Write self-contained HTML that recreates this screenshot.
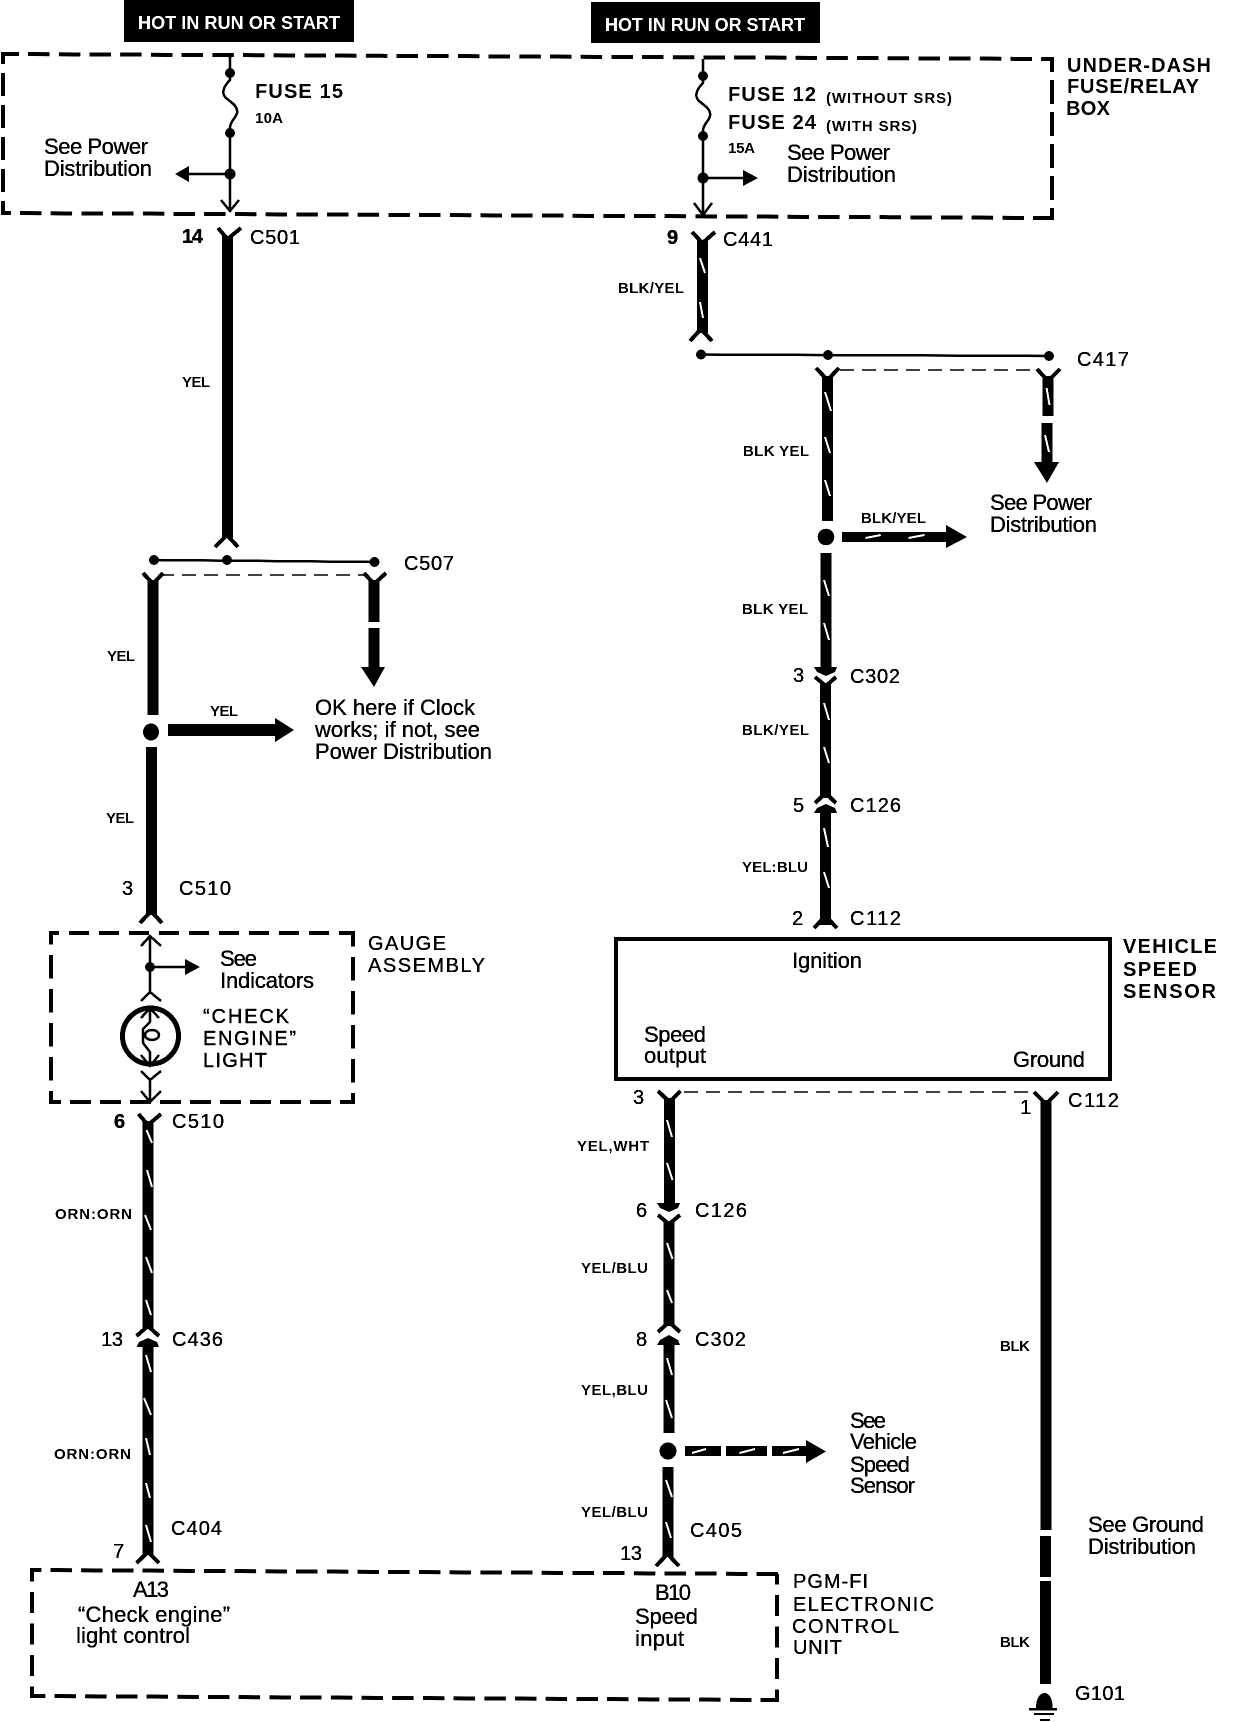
<!DOCTYPE html>
<html><head><meta charset="utf-8"><style>
html,body{margin:0;padding:0;background:#fff}
svg{display:block;filter:grayscale(1) contrast(3)}
text{font-family:"Liberation Sans",sans-serif;fill:#000}
.b{font-size:22px;stroke:#000;stroke-width:.3}
.h{font-size:20px;font-weight:bold}
.s{font-size:15px;font-weight:bold}
.c{font-size:20px;stroke:#000;stroke-width:.3}
.w{fill:#fff;font-size:18px;font-weight:bold}
.box{fill:none;stroke:#000;stroke-width:4}
.bh{stroke-dasharray:21.5 9.2}
.wire{stroke:#000;stroke-width:11;fill:none}
.thin{stroke:#000;stroke-width:2.5;fill:none}
.arm{stroke:#000;stroke-width:4;fill:none}
.dash{stroke:#000;stroke-width:1.5;stroke-dasharray:14 8;fill:none}
.st{stroke:#fff;stroke-width:2;fill:none}
</style></head><body>
<svg width="1248" height="1722" viewBox="0 0 1248 1722" xmlns="http://www.w3.org/2000/svg">
<rect width="1248" height="1722" fill="#fff"/>

<!-- headers -->
<rect x="124" y="0" width="230" height="42"/>
<rect x="591" y="2" width="229" height="41"/>

<!-- dashed boxes -->
<path class="box bh" style="stroke-dashoffset:3.6" d="M1 54L1054 59"/>
<path class="box bh" style="stroke-dashoffset:11.7" d="M1 213L1054 218"/>
<path class="box" style="stroke-dasharray:23 9;stroke-dashoffset:13" d="M3 54V213"/>
<path class="box" style="stroke-dasharray:24 8;stroke-dashoffset:11" d="M1052 59V218"/>

<path class="box" style="stroke-dasharray:20 10;stroke-dashoffset:10" d="M49 933H355"/>
<path class="box" style="stroke-dasharray:21 9;stroke-dashoffset:9" d="M49 1102H355"/>
<path class="box" style="stroke-dasharray:23.500 10.500;stroke-dashoffset:12" d="M51 933V1102"/>
<path class="box" style="stroke-dasharray:23.500 10.500;stroke-dashoffset:10" d="M353 933V1103"/>

<path class="box bh" style="stroke-dashoffset:10.2" d="M30 1570L779 1574"/>
<path class="box bh" style="stroke-dashoffset:6.2" d="M30 1696L779 1700"/>
<path class="box" style="stroke-dasharray:21 10.500;stroke-dashoffset:9.500" d="M32 1570V1696"/>
<path class="box" style="stroke-dasharray:21 10.500;stroke-dashoffset:10.500" d="M777 1574V1702"/>

<rect x="616" y="939" width="494" height="140" fill="none" stroke="#000" stroke-width="4"/>

<!-- fuse 15 -->
<path class="thin" d="M230 54V80C222 88 222 94 226 98C232 103 238 106 237 113C236 118 231 120 230 127V211M221 200L230 211L239 200M230 174H185"/>
<circle cx="230" cy="73" r="5"/><circle cx="230" cy="133" r="5"/><circle cx="230" cy="174" r="5.5"/>
<path d="M175 174L189 166V182Z"/>

<!-- fuse 12 -->
<path class="thin" d="M703 59V83C695 91 695 97 699 101C705 106 711 109 710 116C709 121 704 123 703 130V215M694 203L703 215L712 203M703 178H745"/>
<circle cx="703" cy="76" r="5"/><circle cx="703" cy="136" r="5"/><circle cx="703" cy="178" r="5.5"/>
<path d="M743 170L758 178L743 186Z"/>

<!-- left wire top -->
<path class="arm" d="M218 228L227.500 239L241 228"/>
<path class="wire" d="M227.500 236V538"/>
<path class="arm" d="M215 547L227 535L238 547"/>
<path class="thin" d="M154 560L374.500 562"/>
<circle cx="154" cy="560" r="5"/><circle cx="227" cy="560" r="5"/><circle cx="374.500" cy="562" r="5"/>
<path class="dash" d="M160 575H368"/>
<path class="arm" d="M143 573L153 584L163 573"/>
<path class="wire" d="M153 580V715"/>
<ellipse cx="151" cy="732" rx="8" ry="8.500"/>
<path class="wire" d="M151.500 747V915"/>
<path class="arm" d="M140 923L151 911L162 923"/>
<path class="arm" d="M364 573L374 584L386 573"/>
<path class="wire" d="M374 580V622M374 628V668"/>
<path d="M361 667H385L374 687Z"/>
<path d="M168 724H275V718L294 730L275 742V736H168Z"/>

<!-- gauge interior -->
<path class="thin" d="M150 936V992M141 946L150 936L161 946M141 1001L150 992L161 1001M150 967H187"/>
<circle cx="150" cy="967" r="5"/>
<path d="M185 959L200 967L185 975Z"/>
<ellipse cx="150.500" cy="1036" rx="28" ry="28" fill="none" stroke="#000" stroke-width="5"/>
<path class="thin" d="M141 1018L150 1008L159 1018M150 1008V1022L143 1029V1043L150 1052V1066M141 1055L150 1066L159 1055"/>
<ellipse cx="152" cy="1035" rx="7" ry="5" fill="none" stroke="#000" stroke-width="2.500"/>
<path class="thin" d="M141 1071L150 1080L161 1071M150 1080V1102M141 1091L150 1102L161 1091"/>

<!-- left wire lower -->
<path class="arm" d="M138.500 1114L148 1125L161 1114"/>
<path class="wire" d="M148 1121V1328"/>
<path class="arm" d="M136.500 1336L148 1326L159 1336"/>
<path d="M136.500 1347L139 1342L148 1338L157 1342L159 1347H153V1400H143V1347Z"/>
<path class="wire" d="M148 1345V1555"/>
<path class="arm" d="M136.500 1563L148 1552L159 1563"/>
<path class="st" d="M146.500 1130L152 1143M147 1170L152 1187M145 1215L151 1230M146 1257L152 1273M146 1300L151 1315M146 1355L151 1372M144 1398L151 1415M146 1438L150 1455M146 1483L150 1498M146 1525L151 1542"/>

<!-- C441 wire -->
<path class="arm" d="M692 232L702.500 243L715 232"/>
<path class="wire" d="M702.500 240V333"/>
<path class="arm" d="M690 341L701 329L712 341"/>
<path class="st" d="M700 258L705 273M700 302L703 318"/>
<path class="thin" d="M701 354.500L1049 356"/>
<circle cx="701" cy="354.500" r="5"/><circle cx="828" cy="355" r="5"/><circle cx="1049" cy="356" r="5"/>
<path class="dash" d="M840 370H1036"/>
<path class="arm" d="M816 368L827.500 380L839 368"/>
<path class="wire" d="M827.500 376V521"/>
<circle cx="826" cy="537" r="8.300"/>
<path class="wire" d="M826 553V668"/>
<path class="arm" d="M1037 369L1048 381L1060 369"/>
<path class="wire" d="M1048 376V416M1047 423V463"/>
<path d="M1034 462H1059L1047 483Z"/>
<path class="st" d="M825 392L831 411M825 437L830 453M825 480L830 496M824 580L829 596M824 623L829 640M1046.600 388L1049.500 405M1045 435L1049 452"/>
<path d="M842 532H946V525L967 537L946 548V542H842Z"/>
<path class="st" d="M865.500 538L880.700 535M908.500 538L924.400 535"/>

<!-- C302 / C126 right -->
<path d="M814 667H837L835 672L826 676L817 672Z"/>
<path class="arm" d="M815 677L826 686L836 677"/>
<path class="wire" d="M825.500 683V798"/>
<path class="arm" d="M815 803L825.500 793L836 803"/>
<path d="M814 813L817 808L826 804L835 808L837 813H831V925H820V813Z"/>
<path class="arm" d="M814 928L825.500 916L837 928"/>
<path class="st" d="M824 703L829 720M824 747L829 763M824 828L828 847M824 872L829 888"/>

<!-- below sensor -->
<path class="dash" d="M684 1092H1034"/>
<path class="arm" d="M658 1091L669.500 1102L680.500 1091"/>
<path class="wire" d="M669.500 1098V1204"/>
<path d="M657 1203H680L678 1208L669 1212L660 1208Z"/>
<path class="arm" d="M658 1215L669 1224L680 1215"/>
<path class="wire" d="M669 1221V1326"/>
<path class="arm" d="M658 1332L669 1322L680 1332"/>
<path d="M657 1345L660 1340L669 1335L678 1340L680 1345H674V1400H664V1345Z"/>
<path class="wire" d="M669 1345V1433"/>
<circle cx="668" cy="1451" r="8.500"/>
<path class="wire" d="M668 1467V1557"/>
<path class="arm" d="M656 1566L667.500 1554L679 1566"/>
<path class="st" d="M667 1120L672 1137M667 1163L672.500 1180M667 1243L672.500 1259M667 1290L672 1303M667 1358L672 1375M666 1400L672 1418M666 1480L672 1497M666 1522L671 1538"/>
<path d="M685 1446H721V1456H685ZM726 1446H767V1456H726ZM772 1446H806V1440L826 1451.500L806 1463V1456H772Z"/>
<path class="st" d="M692 1453L706 1449M739.500 1453L755 1449M783 1453L799 1449"/>

<!-- ground wire -->
<path class="arm" d="M1034 1092L1046 1104L1058 1092"/>
<path class="wire" d="M1046 1100V1530M1045.500 1536V1577M1045.500 1581V1684"/>
<path d="M1036 1708C1036 1698 1040 1693 1044.500 1693C1049 1693 1052.600 1698 1052.600 1708Z"/>
<rect x="1029" y="1708" width="28" height="2.500"/>
<rect x="1034" y="1713" width="20" height="2"/>
<rect x="1040" y="1719" width="10" height="2"/>

<g transform="translate(-1,0)">
<text class="w" x="139" y="29" textLength="202">HOT IN RUN OR START</text>
<text class="w" x="606" y="31" textLength="200">HOT IN RUN OR START</text>

<!-- box labels -->
<text class="h" x="1068" y="72" textLength="144">UNDER-DASH</text>
<text class="h" x="1068" y="93" textLength="132">FUSE/RELAY</text>
<text class="h" x="1067" y="115" textLength="44">BOX</text>
<text class="c" x="369" y="950" textLength="78">GAUGE</text>
<text class="c" x="369" y="972" textLength="117">ASSEMBLY</text>
<text class="h" x="1124" y="953" textLength="94">VEHICLE</text>
<text class="h" x="1124" y="976" textLength="74">SPEED</text>
<text class="h" x="1124" y="998" textLength="93">SENSOR</text>
<text class="c" x="794" y="1588" textLength="75">PGM-FI</text>
<text class="c" x="794" y="1611" textLength="141">ELECTRONIC</text>
<text class="c" x="793" y="1633" textLength="107">CONTROL</text>
<text class="c" x="794" y="1654" textLength="49">UNIT</text>

<!-- fuse labels -->
<text class="h" x="256" y="98" textLength="88">FUSE 15</text>
<text class="s" x="256" y="123" textLength="28">10A</text>
<text class="h" x="729" y="101" textLength="88">FUSE 12</text>
<text class="s" x="827" y="103" textLength="126">(WITHOUT SRS)</text>
<text class="h" x="729" y="129" textLength="88">FUSE 24</text>
<text class="s" x="827" y="131" textLength="91">(WITH SRS)</text>
<text class="s" x="729" y="153" textLength="27">15A</text>

<!-- body text -->
<text class="b" x="45" y="154" textLength="104">See Power</text>
<text class="b" x="45" y="176" textLength="108">Distribution</text>
<text class="b" x="788" y="160" textLength="103">See Power</text>
<text class="b" x="788" y="182" textLength="109">Distribution</text>
<text class="b" x="991" y="510" textLength="102">See Power</text>
<text class="b" x="991" y="532" textLength="107">Distribution</text>
<text class="b" x="316" y="715" textLength="160">OK here if Clock</text>
<text class="b" x="316" y="737" textLength="165">works; if not, see</text>
<text class="b" x="316" y="759" textLength="177">Power Distribution</text>
<text class="b" x="221" y="966" textLength="37">See</text>
<text class="b" x="221" y="988" textLength="94">Indicators</text>
<text class="h" x="204" y="1023" textLength="86" style="font-weight:normal;stroke:#000;stroke-width:.4">“CHECK</text>
<text class="h" x="204" y="1045" textLength="93" style="font-weight:normal;stroke:#000;stroke-width:.4">ENGINE”</text>
<text class="h" x="204" y="1067" textLength="64" style="font-weight:normal;stroke:#000;stroke-width:.4">LIGHT</text>
<text class="b" x="793" y="968" textLength="70">Ignition</text>
<text class="b" x="645" y="1042" textLength="62">Speed</text>
<text class="b" x="645" y="1063" textLength="62">output</text>
<text class="b" x="1014" y="1067" textLength="72">Ground</text>
<text class="b" x="851" y="1428" textLength="36">See</text>
<text class="b" x="851" y="1449" textLength="67">Vehicle</text>
<text class="b" x="851" y="1472" textLength="60">Speed</text>
<text class="b" x="851" y="1493" textLength="65">Sensor</text>
<text class="b" x="1089" y="1532" textLength="116">See Ground</text>
<text class="b" x="1089" y="1554" textLength="108">Distribution</text>
<text class="b" x="134" y="1597" textLength="36">A13</text>
<text class="b" x="79" y="1622" textLength="152">“Check engine”</text>
<text class="b" x="77" y="1643" textLength="114">light control</text>
<text class="b" x="656" y="1600" textLength="36">B10</text>
<text class="b" x="636" y="1624" textLength="63">Speed</text>
<text class="b" x="636" y="1646" textLength="49">input</text>

<!-- connectors -->
<text class="c" x="183" y="243" textLength="21" style="font-weight:bold">14</text>
<text class="c" x="251" y="244" textLength="50">C501</text>
<text class="c" x="668" y="244" textLength="10" style="font-weight:bold">9</text>
<text class="c" x="724" y="246" textLength="50">C441</text>
<text class="c" x="1078" y="366" textLength="52">C417</text>
<text class="c" x="405" y="570" textLength="50">C507</text>
<text class="c" x="794" y="682" textLength="10">3</text>
<text class="c" x="851" y="683" textLength="50">C302</text>
<text class="c" x="794" y="812" textLength="10">5</text>
<text class="c" x="851" y="812" textLength="51">C126</text>
<text class="c" x="793" y="925" textLength="10">2</text>
<text class="c" x="851" y="925" textLength="51">C112</text>
<text class="c" x="123" y="895" textLength="10">3</text>
<text class="c" x="180" y="895" textLength="52">C510</text>
<text class="c" x="115" y="1128" textLength="10" style="font-weight:bold">6</text>
<text class="c" x="173" y="1128" textLength="52">C510</text>
<text class="c" x="634" y="1104" textLength="10">3</text>
<text class="c" x="1021" y="1114" textLength="8">1</text>
<text class="c" x="1069" y="1107" textLength="51">C112</text>
<text class="c" x="637" y="1217" textLength="10">6</text>
<text class="c" x="696" y="1217" textLength="52">C126</text>
<text class="c" x="102" y="1346" textLength="22">13</text>
<text class="c" x="173" y="1346" textLength="51">C436</text>
<text class="c" x="637" y="1346" textLength="9">8</text>
<text class="c" x="696" y="1346" textLength="51">C302</text>
<text class="c" x="172" y="1535" textLength="51">C404</text>
<text class="c" x="114" y="1558" textLength="9">7</text>
<text class="c" x="691" y="1537" textLength="52">C405</text>
<text class="c" x="621" y="1560" textLength="22">13</text>
<text class="c" x="1076" y="1700" textLength="50">G101</text>

<!-- wire colours -->
<text class="s" x="183" y="387" textLength="28">YEL</text>
<text class="s" x="108" y="661" textLength="28">YEL</text>
<text class="s" x="211" y="716" textLength="28">YEL</text>
<text class="s" x="107" y="823" textLength="28">YEL</text>
<text class="s" x="56" y="1219" textLength="77">ORN:ORN</text>
<text class="s" x="55" y="1459" textLength="77">ORN:ORN</text>
<text class="s" x="619" y="293" textLength="66">BLK/YEL</text>
<text class="s" x="744" y="456" textLength="66">BLK YEL</text>
<text class="s" x="862" y="523" textLength="65">BLK/YEL</text>
<text class="s" x="743" y="614" textLength="66">BLK YEL</text>
<text class="s" x="743" y="735" textLength="67">BLK/YEL</text>
<text class="s" x="743" y="872" textLength="66">YEL:BLU</text>
<text class="s" x="578" y="1151" textLength="72">YEL,WHT</text>
<text class="s" x="582" y="1273" textLength="67">YEL/BLU</text>
<text class="s" x="582" y="1395" textLength="67">YEL,BLU</text>
<text class="s" x="582" y="1517" textLength="67">YEL/BLU</text>
<text class="s" x="1001" y="1351" textLength="30">BLK</text>
<text class="s" x="1001" y="1647" textLength="30">BLK</text>
</g>
</svg>
</body></html>
